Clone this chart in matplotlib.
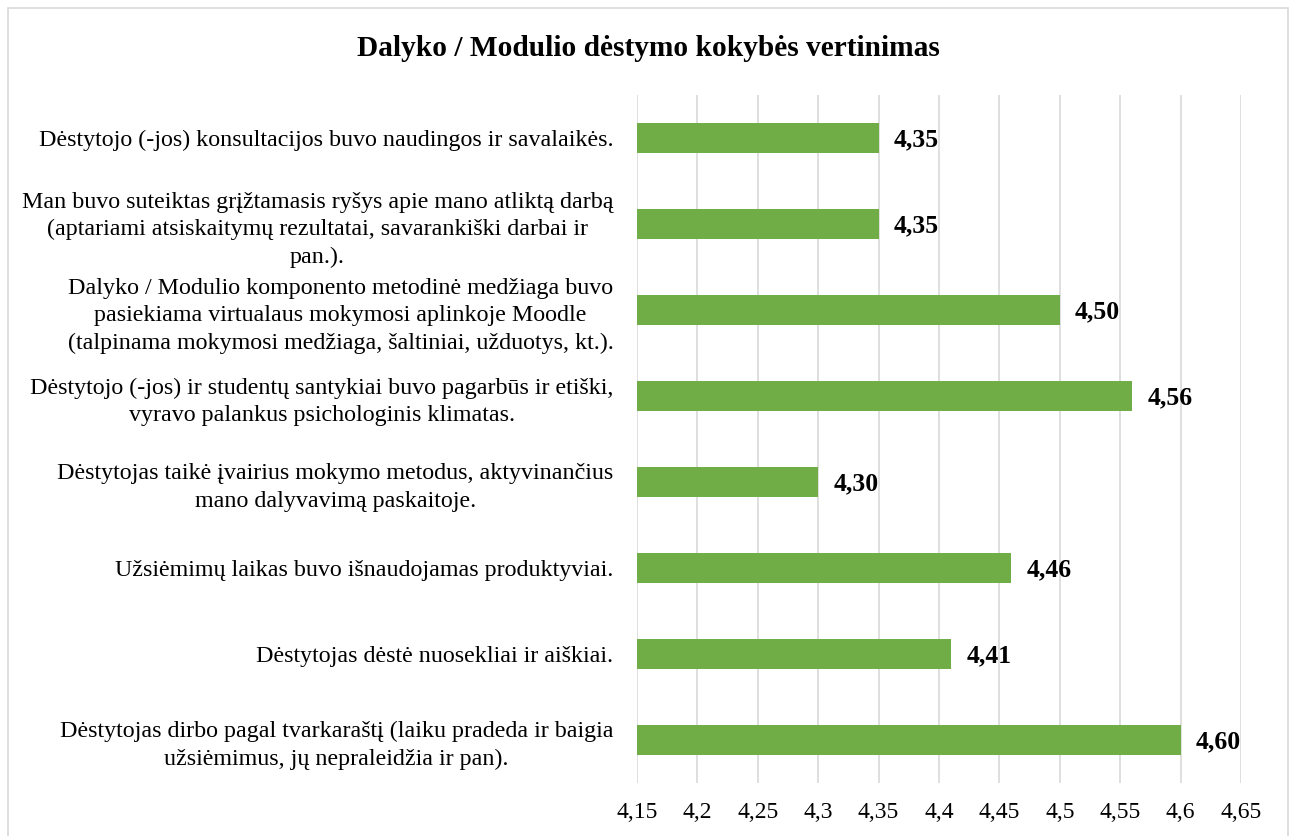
import matplotlib.pyplot as plt
from matplotlib.patches import Rectangle

# duomenys (nuo viršaus į apačią)
klausimai = [
    'Dėstytojo (-jos) konsultacijos buvo naudingos ir savalaikės.',
    'Man buvo suteiktas grįžtamasis ryšys apie mano atliktą darbą\n(aptariami atsiskaitymų rezultatai, savarankiški darbai ir\npan.).',
    'Dalyko / Modulio komponento metodinė medžiaga buvo\npasiekiama virtualaus mokymosi aplinkoje Moodle\n(talpinama mokymosi medžiaga, šaltiniai, užduotys, kt.).',
    'Dėstytojo (-jos) ir studentų santykiai buvo pagarbūs ir etiški,\nvyravo palankus psichologinis klimatas.',
    'Dėstytojas taikė įvairius mokymo metodus, aktyvinančius\nmano dalyvavimą paskaitoje.',
    'Užsiėmimų laikas buvo išnaudojamas produktyviai.',
    'Dėstytojas dėstė nuosekliai ir aiškiai.',
    'Dėstytojas dirbo pagal tvarkaraštį (laiku pradeda ir baigia\nužsiėmimus, jų nepraleidžia ir pan).',
]
vertinimai = [4.35, 4.35, 4.50, 4.56, 4.30, 4.46, 4.41, 4.60]
x_ticks = [4.15, 4.2, 4.25, 4.3, 4.35, 4.4, 4.45, 4.5, 4.55, 4.6, 4.65]

plt.rcParams['font.family'] = ['Liberation Serif', 'DejaVu Serif']

fig = plt.figure(figsize=(12.97, 8.36), dpi=100)
ax = fig.add_axes([637/1297, 1 - 783/836, (1241-637)/1297, (783-95)/836])

y = range(len(klausimai))
ax.barh(y, vertinimai, height=0.35, color='#70AD47', zorder=3)
ax.set_ylim(len(klausimai) - 0.5, -0.5)
ax.set_xlim(4.15, 4.65)

# reikšmės prie stulpelių
for i, v in enumerate(vertinimai):
    ax.annotate(f'{v:.2f}'.replace('.', ','), (v, i), xytext=(11, -1.5),
                textcoords='offset points', va='center', ha='left',
                fontsize=18.5, fontweight='bold')

ax.set_xticks(x_ticks)
ax.set_xticklabels([f'{t:g}'.replace('.', ',') for t in x_ticks], fontsize=17)
ax.set_yticks(list(y))
ax.set_yticklabels(klausimai, fontsize=17.25, multialignment='center', linespacing=1.4)
ax.tick_params(axis='both', length=0)
ax.tick_params(axis='x', pad=14)
ax.tick_params(axis='y', pad=17)
ax.grid(axis='x', color='#d9d9d9', linewidth=1.2, zorder=0)
for s in ax.spines.values():
    s.set_visible(False)

fig.text(0.5, 1 - 49/836, 'Dalyko / Modulio dėstymo kokybės vertinimas',
         ha='center', va='center', fontsize=21.2, fontweight='bold')

# rėmelis aplink
fig.patches.append(Rectangle((8/1297, -0.05), 1280/1297, 1.05 - 8/836,
                             transform=fig.transFigure, fill=False,
                             edgecolor='#d9d9d9', linewidth=1.2))

fig.savefig('out.png', dpi=100)
